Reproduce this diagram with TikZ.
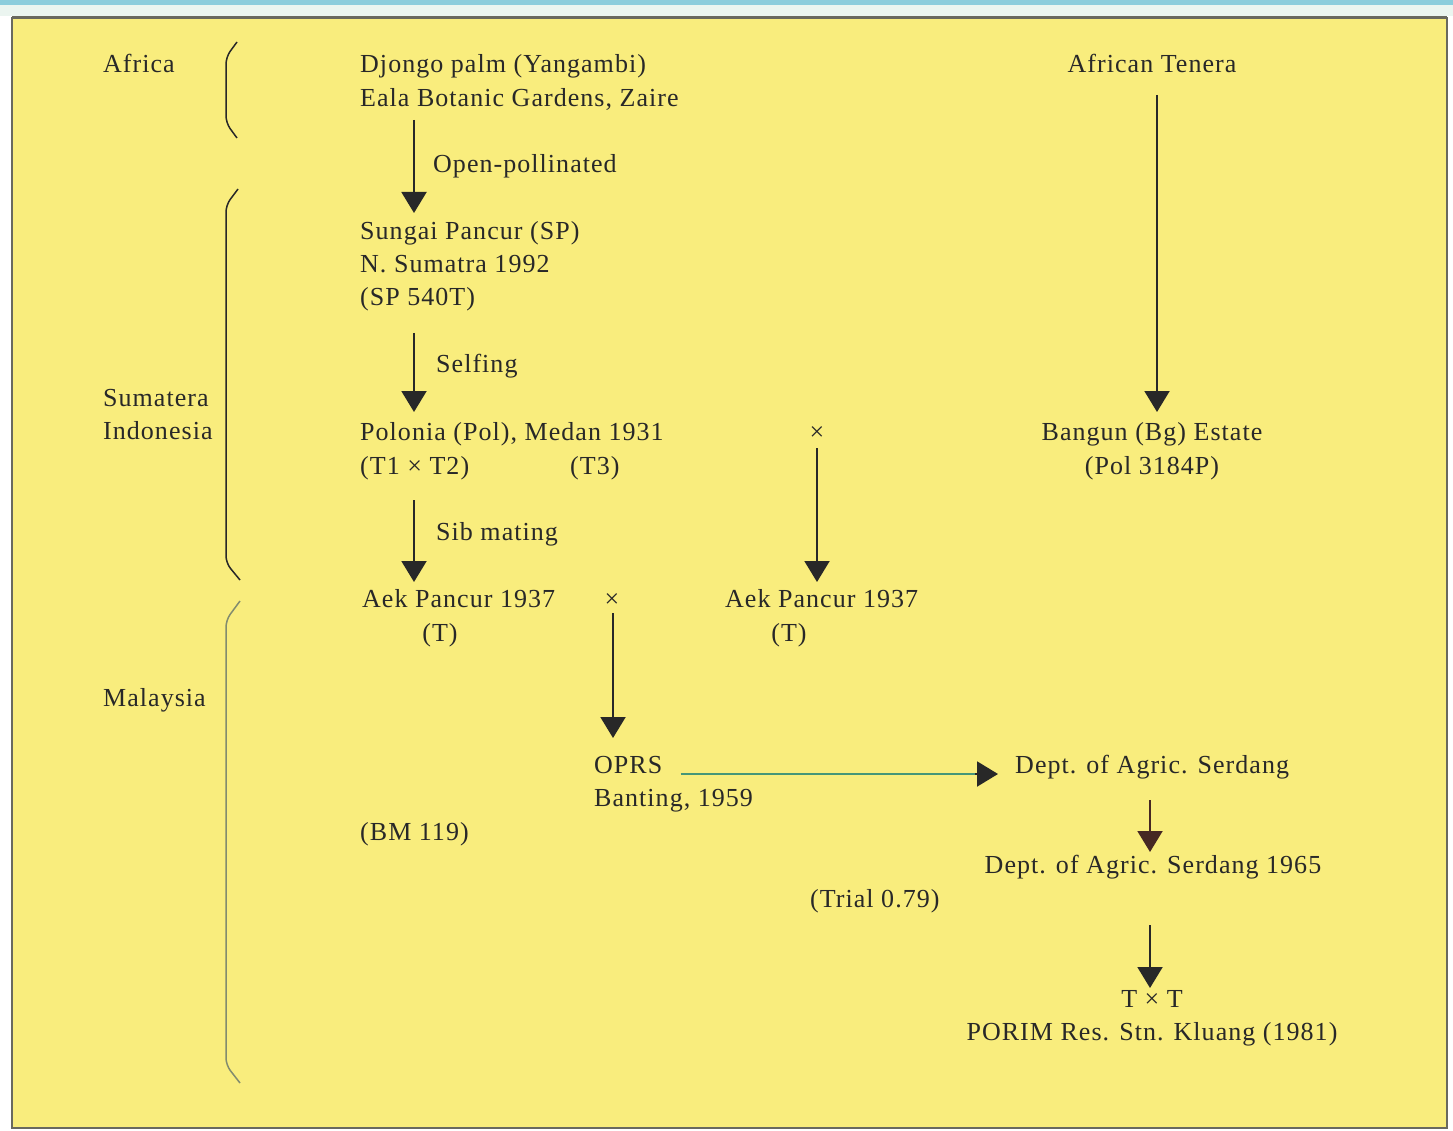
\documentclass[tikz,border=0pt]{standalone}
\usepackage{fontspec}
\setmainfont{Liberation Serif}[LetterSpace=4]
\usetikzlibrary{arrows.meta,calc}
\definecolor{panel}{RGB}{249,237,125}
\definecolor{ink}{RGB}{40,40,40}
\definecolor{edge}{RGB}{105,105,95}
\definecolor{tealline}{RGB}{70,150,120}
\definecolor{brack}{RGB}{130,140,110}
\definecolor{topcyan}{RGB}{140,205,220}
\definecolor{topstrip}{RGB}{235,245,240}
\definecolor{brownink}{RGB}{70,40,35}
\tikzset{
  txt/.style={inner sep=0pt, anchor=base west, text=ink, font=\fontsize{26}{30}\selectfont},
  ctxt/.style={txt, anchor=base},
  arr/.style={draw=ink, line width=2pt, -{Triangle[width=25pt,length=21pt]}},
  brace/.style={draw=ink, line width=1.5pt, rounded corners=7pt},
}
\begin{document}
\begin{tikzpicture}[x=1pt,y=-1pt]
\useasboundingbox (0,0) rectangle (1453,1131);
% background and panel
\fill[white] (0,0) rectangle (1453,1131);
\fill[topcyan] (0,0) rectangle (1453,5);
\fill[topstrip] (0,5) rectangle (1453,16);
\filldraw[fill=panel, draw=edge, line width=1.5pt] (12,18) rectangle (1447,1128);
\draw[edge, line width=3pt] (12,18) -- (1447,18);

% region labels
\node[txt] (africa) at (103,73) {Africa};
\node[txt] (sumatera) at (103,406) {Sumatera};
\node[txt] (indonesia) at (103,439) {Indonesia};
\node[txt] (malaysia) at (103,706) {Malaysia};

% brackets
\draw[brace] (237,42) -- (226,57) -- (226,123) -- (237,138);
\draw[brace] (238,189) -- (226,205) -- (226,563) -- (240,580);
\draw[brace, draw=brack] (240,601) -- (226,620) -- (226,1065) -- (240,1083);

% main column
\node[txt] (djongo) at (360,73) {Djongo palm (Yangambi)};
\node[txt] (eala) at (360,107) {Eala Botanic Gardens, Zaire};
\node[txt] (openpol) at (433,173) {Open-pollinated};
\node[txt] (sungai) at (360,240) {Sungai Pancur (SP)};
\node[txt] (nsum) at (360,273) {N. Sumatra 1992};
\node[txt] (sp540) at (360,306) {(SP 540T)};
\node[txt] (selfing) at (436,372) {Selfing};
\node[txt] (polonia) at (360,440) {Polonia (Pol), Medan 1931};
\node[txt] (t1t2) at (360,474) {(T1 × T2)};
\node[txt] (t3) at (570,474) {(T3)};
\node[txt] (sib) at (436,540) {Sib mating};
\node[txt] (aek1) at (362,607) {Aek Pancur 1937};
\node[ctxt] (aek1t) at (440,641) {(T)};
\node[ctxt] (cross2) at (612,607) {×};
\node[ctxt] (cross1) at (817,440) {×};
\node[txt] (aek2) at (725,607) {Aek Pancur 1937};
\node[ctxt] (aek2t) at (789,641) {(T)};
\node[txt] (oprs) at (594,773) {OPRS};
\node[txt] (banting) at (594,806) {Banting, 1959};
\node[txt] (bm) at (360,840) {(BM 119)};

% right column
\node[ctxt] (tenera) at (1152,73) {African Tenera};
\node[ctxt] (bangun) at (1152,440) {Bangun (Bg) Estate};
\node[ctxt] (pol3184) at (1152,474) {(Pol 3184P)};
\node[txt] (dept1) at (1015,773) {Dept. of Agric. Serdang};
\node[ctxt] (dept2) at (1153,873) {Dept. of Agric. Serdang 1965};
\node[txt] (trial) at (810,907) {(Trial 0.79)};
\node[ctxt] (ttcross) at (1152,1007) {T × T};
\node[ctxt] (porim) at (1152,1040) {PORIM Res. Stn. Kluang (1981)};

% connectors
\draw[arr] ($(eala.base west)+(54,13)$) -- ($(sungai.base west)+(54,-27)$);
\draw[arr] ($(sp540.base west)+(54,27)$) -- ($(polonia.base west)+(54,-28)$);
\draw[arr] ($(t1t2.base west)+(54,26)$) -- ($(aek1.base west)+(52,-25)$);
\draw[arr] ($(cross1.base)+(0,8)$) -- ($(aek2.base west)+(92,-25)$);
\draw[arr] ($(cross2.base)+(1,6)$) -- ($(oprs.base west)+(19,-35)$);
\draw[line width=2pt, draw=tealline] ($(oprs.base east)+(18,1)$) -- ($(dept1.base west)+(-30,1)$);
\draw[arr] ($(dept1.base west)+(-40,1)$) -- ($(dept1.base west)+(-17,1)$);
\draw[arr] ($(tenera.base)+(5,22)$) -- ($(bangun.base)+(5,-28)$);
\draw[arr, draw=brownink] ($(dept1.base west)+(135,27)$) -- ($(dept2.base)+(-3,-21)$);
\draw[arr] ($(dept2.base)+(-3,52)$) -- ($(ttcross.base)+(-2,-19)$);
\end{tikzpicture}
\end{document}
